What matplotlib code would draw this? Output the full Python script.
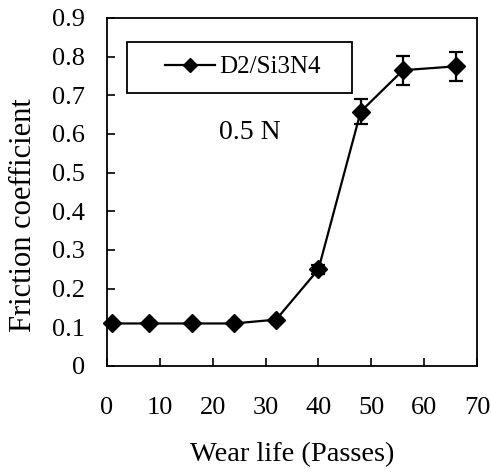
import matplotlib
matplotlib.use("Agg")
import matplotlib.pyplot as plt
from matplotlib.patches import Rectangle

plt.rcParams['font.family'] = ['Liberation Serif', 'DejaVu Serif']

# Data
passes = [1, 8, 16, 24, 32, 40, 48, 56, 66]
friction = [0.11, 0.11, 0.11, 0.11, 0.12, 0.25, 0.658, 0.765, 0.775]
friction_err = [0.0, 0.0, 0.0, 0.0, 0.0, 0.012, 0.032, 0.038, 0.038]
x_ticks = [0, 10, 20, 30, 40, 50, 60, 70]
y_ticks = [0, 0.1, 0.2, 0.3, 0.4, 0.5, 0.6, 0.7, 0.8, 0.9]

fig = plt.figure(figsize=(4.91, 4.74), dpi=100)
ax = fig.add_axes([107 / 491, 1 - 366 / 474, 370 / 491, 348 / 474])

# error bars, then the line with markers (the legend shows only the line)
ax.errorbar(passes, friction, yerr=friction_err, fmt='none', ecolor='black',
            elinewidth=1.6, capsize=5, capthick=1.6, zorder=3)
ax.plot(passes, friction, color='black', marker='D', markersize=9.5,
        linewidth=1.6, label='D2/Si3N4', clip_on=False, zorder=4)

ax.set_xlim(0, 70)
ax.set_ylim(0, 0.9)
ax.set_xticks(x_ticks)
ax.set_yticks(y_ticks)
ax.set_yticklabels(['0' if v == 0 else f'{v:g}' for v in y_ticks])
ax.tick_params(direction='in', length=6, width=1.2, labelsize=19,
               top=False, right=False)
ax.tick_params(axis='y', pad=16)
ax.tick_params(axis='x', pad=22)
for s in ax.spines.values():
    s.set_linewidth(1.3)

ax.set_xlabel('Wear life (Passes)', fontsize=20.5, labelpad=17)
ax.set_ylabel('Friction coefficient', fontsize=22)
ax.yaxis.set_label_coords(-0.187, 0.434)

# legend box
ax.add_patch(Rectangle((0.054, 0.7845), 0.608, 0.1465, transform=ax.transAxes,
                       fill=False, edgecolor='black', linewidth=1.3, zorder=5))
ax.legend(loc='center left', bbox_to_anchor=(0.157, 0.859), fontsize=18,
          frameon=False, borderpad=0, borderaxespad=0, handlelength=2.0,
          handletextpad=0.15, markerscale=0.8)

ax.text(27, 0.605, '0.5 N', fontsize=20, ha='center', va='center')

fig.savefig('out.png', dpi=100)
